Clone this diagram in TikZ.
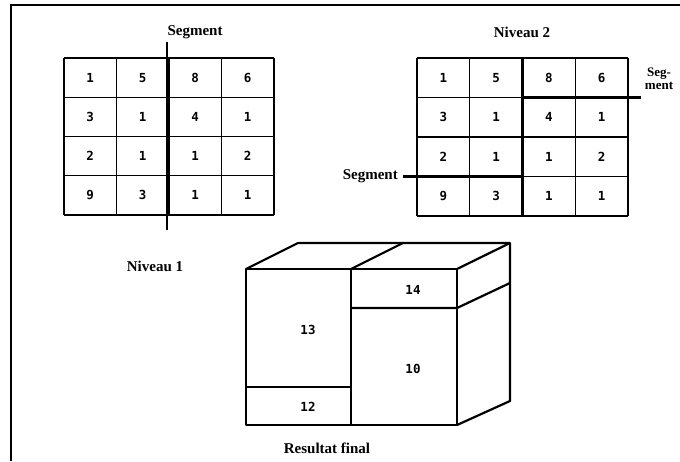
\documentclass[tikz,border=0pt]{standalone}
\usepackage{fontspec}
\setmainfont{Liberation Serif}
\newfontfamily\numfont{DejaVu Sans Mono}
\begin{document}
\begin{tikzpicture}[x=1pt,y=-1pt,
  frameline/.style={line width=1.6pt},
  gridline/.style={line width=1.2pt},
  segline/.style={line width=2.3pt},
  boxline/.style={line width=2.2pt, line join=round},
  num/.style={font=\numfont\bfseries\fontsize{12.5}{13}\selectfont, inner sep=0pt},
  lab/.style={font=\bfseries\fontsize{15}{15}\selectfont, inner sep=0pt, align=center}]
\useasboundingbox (0,0) rectangle (680,461);
% frame
\draw[frameline] (11,461) -- (11,5) -- (680,5);
% ---------- left grid (Niveau 1)
\foreach \i in {0,...,4} {
  \draw[gridline] ({64+52.5*\i},58) -- ({64+52.5*\i},215);
  \draw[gridline] (64,{58+39.25*\i}) -- (274,{58+39.25*\i});
}
\foreach \r/\row in {1/{1,5,8,6},2/{3,1,4,1},3/{2,1,1,2},4/{9,3,1,1}} {
  \foreach \v [count=\c] in \row {
    \node[num] (La\r\c) at ({64+52.5*(\c-0.5)},{58+39.25*(\r-0.5)}) {\v};
  }
}
\coordinate (lsegT) at (167,42);
\coordinate (lsegB) at (167,230);
\draw[segline] (lsegT) -- (lsegB);
\node[lab] (lseg) at (195,32) {Segment};
\node[lab] (niv1) at (155,266) {Niveau 1};
% ---------- right grid (Niveau 2)
\foreach \i in {0,...,4} {
  \draw[gridline] ({417+52.75*\i},58) -- ({417+52.75*\i},216);
  \draw[gridline] (417,{58+39.5*\i}) -- (628,{58+39.5*\i});
}
\foreach \r/\row in {1/{1,5,8,6},2/{3,1,4,1},3/{2,1,1,2},4/{9,3,1,1}} {
  \foreach \v [count=\c] in \row {
    \node[num] (Ra\r\c) at ({417+52.75*(\c-0.5)},{58+39.5*(\r-0.5)}) {\v};
  }
}
\coordinate (rvT) at (522.5,58);
\coordinate (rvB) at (522.5,216);
\draw[segline] (rvT) -- (rvB);
\coordinate (rh1a) at (522.5,97.5);
\coordinate (rh1b) at (641,97.5);
\draw[segline] (rh1a) -- (rh1b);
\coordinate (rh2a) at (403,176.5);
\coordinate (rh2b) at (522.5,176.5);
\draw[segline] (rh2a) -- (rh2b);
\node[lab] (niv2) at (522,32) {Niveau 2};
\node[lab, font=\bfseries\fontsize{13}{13.5}\selectfont] (rseg1) at (659,79) {Seg-\\ment};
\node[lab, anchor=east] (rseg2) at (398,176) {Segment};
% ---------- box (Resultat final)
\coordinate (A) at (246,269);
\coordinate (M) at (351,269);
\coordinate (B) at (457,269);
\coordinate (C) at (457,425);
\coordinate (D) at (246,425);
\coordinate (Mb) at (351,425);
\coordinate (A2) at (298,243);
\coordinate (M2) at (403,243);
\coordinate (B2) at (510,243);
\coordinate (C2) at (510,401);
\coordinate (P) at (246,387);
\coordinate (Pm) at (351,387);
\coordinate (Q) at (351,308);
\coordinate (Qr) at (457,308);
\coordinate (Q2) at (510,283);
\draw[boxline] (A) -- (B) -- (C) -- (D) -- cycle;
\draw[boxline] (A) -- (A2) -- (B2) -- (C2) -- (C);
\draw[boxline] (B) -- (B2);
\draw[boxline] (M) -- (M2);
\draw[boxline] (M) -- (Mb);
\draw[boxline] (P) -- (Pm);
\draw[boxline] (Q) -- (Qr) -- (Q2);
\node[num] (v13) at (308,330) {13};
\node[num] (v14) at (413,290) {14};
\node[num] (v10) at (413,369) {10};
\node[num] (v12) at (308,407) {12};
\node[lab] (res) at (327,448) {Resultat final};
\end{tikzpicture}
\end{document}
